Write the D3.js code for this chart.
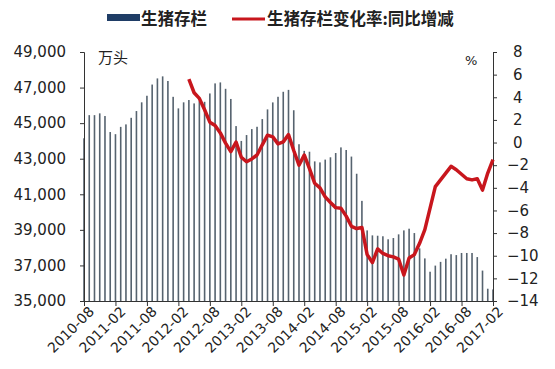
<!DOCTYPE html>
<html>
<head>
<meta charset="utf-8">
<script src="https://cdn.jsdelivr.net/npm/d3@7"></script>
<style>
  body { margin: 0; background: #fff; }
  text { font-family: "DejaVu Sans", sans-serif; fill: #222; }
</style>
</head>
<body>
<script>
// monthly hog inventory (10k head), 2010-08 .. 2017-02
var stock = [
  44150, 45450, 45450, 45550, 45400, 44500, 44380, 44790, 44930, 45300,
  45680, 46170, 46540, 47170, 47515, 47630, 47370, 46480, 45830, 46170,
  46300, 46110, 46240, 46200, 46670, 47235, 47290, 46930, 46360, 44835,
  44000, 44330, 44666, 44796, 45228, 45773, 46166, 46482, 46763, 46870,
  45725, 43815, 43440, 43393, 42850, 42793, 42950, 43080, 43320, 43637,
  43490, 43120, 42155, 40630, 38970, 38690, 38670, 38640, 38470, 38540,
  38747, 38970, 39065, 38820, 37960, 37395, 36646, 36990, 37200, 37380,
  37630, 37582, 37700, 37700, 37700, 37470, 36710, 35690, 35650
];

// year-on-year change (%), starts 2012-04
var yoy = [
  null, null, null, null, null, null, null, null, null, null,
  null, null, null, null, null, null, null, null, null, null,
  5.6, 4.4, 3.9, 2.9, 1.8, 1.5, 0.85, -0.05, -0.8, 0.05,
  -1.3, -1.7, -1.45, -1.1, -0.2, 0.65, 0.5, -0.12, 0.06, 0.7,
  -0.7, -2.0, -1.1, -2.3, -3.6, -4.0, -4.8, -5.3, -5.75, -5.8,
  -6.5, -7.4, -7.6, -7.5, -9.9, -10.6, -9.4, -9.8, -10.0, -10.1,
  -10.3, -11.7, -10.2, -9.9, -8.9, -7.7, -5.8, -3.9, -3.3, -2.7,
  -2.1, -2.4, -2.8, -3.2, -3.3, -3.2, -4.2, -2.7, -1.5
];

var tickLabels = ["2010-08", "2011-02", "2011-08", "2012-02", "2012-08", "2013-02", "2013-08",
  "2014-02", "2014-08", "2015-02", "2015-08", "2016-02", "2016-08", "2017-02"];
var leftTicks = [35000, 37000, 39000, 41000, 43000, 45000, 47000, 49000];
var rightTicks = [-14, -12, -10, -8, -6, -4, -2, 0, 2, 4, 6, 8];

var months = d3.timeMonth.range(new Date(2010, 7, 1), new Date(2017, 2, 1)).map(d3.timeFormat("%Y-%m"));
var rows = months.map(function (m, i) { return { month: m, stock: stock[i], yoy: yoy[i] }; });

var svgWidth = 555;
var svgHeight = 369;
var plotLeft = 84, plotRight = 493, plotTop = 52, plotBottom = 301;

var svg = d3.select("body").append("svg")
    .attr("width", svgWidth)
    .attr("height", svgHeight);

var x = d3.scalePoint().domain(months).range([plotLeft, plotRight]);
var yLeft = d3.scaleLinear().domain([35000, 49000]).range([plotBottom, plotTop]);
var yRight = d3.scaleLinear().domain([-14, 8]).range([plotBottom, plotTop]);

// bars
svg.append("g").selectAll("rect")
    .data(rows)
    .enter()
    .append("rect")
    .attr("x", d => x(d.month) - 0.8)
    .attr("y", d => yLeft(d.stock))
    .attr("width", 1.6)
    .attr("height", d => yLeft(35000) - yLeft(d.stock))
    .attr("fill", "#56636f");

// left axis
var leftAxis = svg.append("g")
    .attr("transform", `translate(${plotLeft},0)`)
    .call(d3.axisLeft(yLeft).tickValues(leftTicks).tickSize(4).tickPadding(14).tickFormat(d3.format(",")));
leftAxis.selectAll("text").style("font-size", "15px");

// right axis
var rightAxis = svg.append("g")
    .attr("transform", `translate(${plotRight},0)`)
    .call(d3.axisRight(yRight).tickValues(rightTicks).tickSize(4).tickPadding(10));
rightAxis.selectAll("text").style("font-size", "15px")
    .attr("x", d => d >= 0 ? 20 : 14);

// bottom axis
var bottomAxis = svg.append("g")
    .attr("transform", `translate(0,${plotBottom})`)
    .call(d3.axisBottom(x).tickValues(tickLabels).tickSize(5).tickSizeOuter(0));
bottomAxis.selectAll("text")
    .style("font-size", "14px")
    .attr("text-anchor", "end")
    .attr("transform", "translate(7,8) rotate(-45)")
    .attr("dy", "0.35em")
    .attr("y", 0)
    .attr("x", 0);

svg.selectAll(".domain, .tick line").attr("stroke", "#333");

// yoy line
var line = d3.line()
    .defined(d => d.yoy !== null)
    .x(d => x(d.month))
    .y(d => yRight(d.yoy));

svg.append("path")
    .datum(rows)
    .attr("d", line)
    .attr("fill", "none")
    .attr("stroke", "#c8161d")
    .attr("stroke-width", 3.5)
    .attr("stroke-linejoin", "round");

// unit labels
svg.append("text").attr("x", 98).attr("y", 63)
    .style("font-family", "Noto Sans CJK SC").style("font-size", "15px").text("万头");
svg.append("text").attr("x", 465).attr("y", 65)
    .style("font-size", "13px").text("%");

// legend
svg.append("rect").attr("x", 107).attr("y", 14).attr("width", 33).attr("height", 7).attr("fill", "#1f3d66");
svg.append("text").attr("x", 141).attr("y", 25)
    .style("font-family", "Noto Sans CJK SC").style("font-weight", "bold").style("font-size", "16.5px")
    .text("生猪存栏");
svg.append("line").attr("x1", 232).attr("x2", 265).attr("y1", 19).attr("y2", 19)
    .attr("stroke", "#c8161d").attr("stroke-width", 3);
svg.append("text").attr("x", 267).attr("y", 25)
    .style("font-family", "Noto Sans CJK SC").style("font-weight", "bold").style("font-size", "16.5px")
    .text("生猪存栏变化率:同比增减");
</script>
</body>
</html>
